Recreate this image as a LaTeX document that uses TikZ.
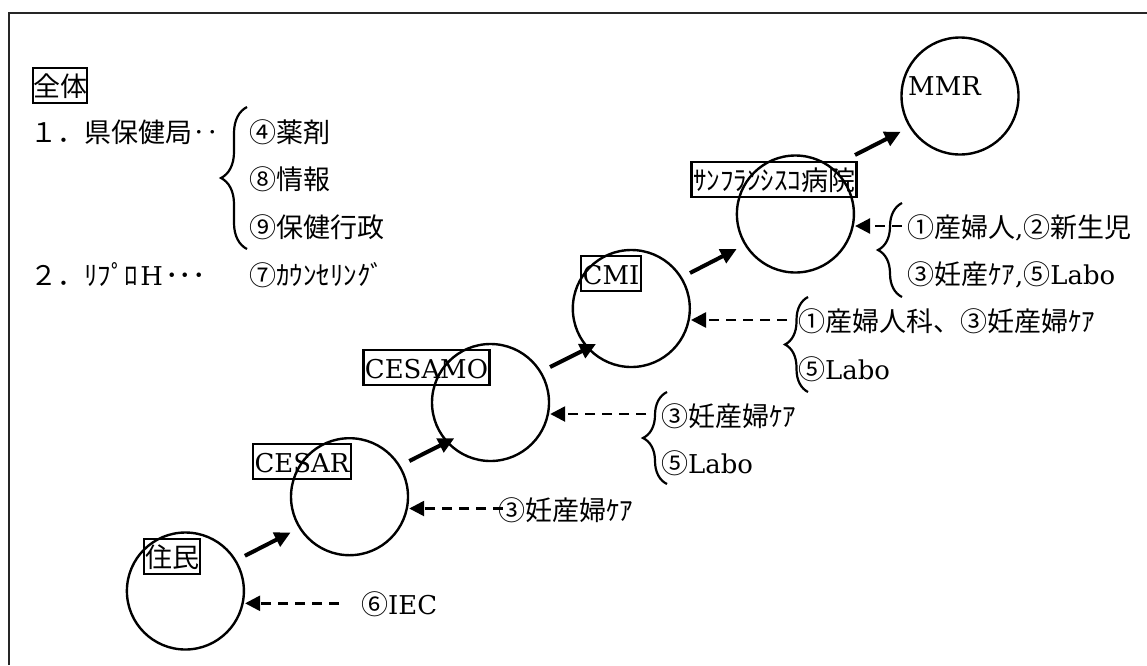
\documentclass[tikz,border=0pt]{standalone}
\usepackage{fontspec}
\setmainfont{DejaVu Serif}[Scale=0.96]
\newfontfamily\jp{Noto Sans CJK JP}
\usetikzlibrary{arrows.meta,decorations.pathreplacing}
\begin{document}
\begin{tikzpicture}[x=1pt,y=-1pt,
  every node/.style={font=\fontsize{27}{32}\selectfont},
  ring/.style={circle,draw,line width=2.4pt,minimum size=117pt,inner sep=0pt},
  tag/.style={draw,line width=2.2pt,inner xsep=1.5pt,inner ysep=0.5pt,text height=28pt,text depth=6pt},
  txt/.style={anchor=base west,inner sep=0pt},
  flow/.style={line width=4pt,-{Triangle[length=16pt,width=15pt]}},
  feed/.style={line width=2.6pt,dash pattern=on 10pt off 7pt,-{Triangle[length=15pt,width=15pt]}},
  curly/.style={line width=2.2pt,decorate,decoration={brace,amplitude=#1}},
  frame/.style={line width=2.5pt,black!85}
]
\useasboundingbox (0,0) rectangle (1147,665);
\draw[frame] (9,665) -- (9,13) -- (1147,13);

% circles
\node[ring] (c0) at (185.4,591) {};
\node[ring] (c1) at (349.5,496.7) {};
\node[ring] (c2) at (490.5,402.5) {};
\node[ring] (c3) at (631.3,308.5) {};
\node[ring] (c4) at (795.4,214) {};
\node[ring] (c5) at (960,96) {};
\node[txt] (mmr) at (908,95) {MMR};

% labels
\node[tag,inner xsep=0pt] (all) at (60,85.5) {\jp 全体};
\node[tag,inner xsep=1pt] (b0) at (172,556.5) {\jp 住民};
\node[tag] (b1) at (302,461.5) {CESAR};
\node[tag] (b2) at (426.5,367.5) {CESAMO};
\node[tag] (b3) at (611,273.5) {CMI};
\node[tag] (b4) at (774,179.5) {\jp ｻﾝﾌﾗﾝｼｽｺ病院};

% solid arrows
\draw[flow] ([shift={(59.5,-35.2)}]c0.center) -- ([shift={(-58.8,35.7)}]c1.center);
\draw[flow] ([shift={(59.8,-35.7)}]c1.center) -- ([shift={(-36.2,35.8)}]c2.center);
\draw[flow] ([shift={(59.5,-35.5)}]c2.center) -- ([shift={(-35.3,35.5)}]c3.center);
\draw[flow] ([shift={(58.7,-35.5)}]c3.center) -- ([shift={(-58.7,35)}]c4.center);
\draw[flow] ([shift={(59.6,-59)}]c4.center) -- ([shift={(-59.3,35.7)}]c5.center);

% left list
\node[txt] (l1) at (30,142.5) {\jp １．県保健局‥};
\node[txt] (l1a) at (249,142.5) {\jp ④薬剤};
\node[txt] (l1b) at (249,189) {\jp ⑧情報};
\node[txt] (l1c) at (249,237.5) {\jp ⑨保健行政};
\node[txt] (l2) at (30,285) {{\jp ２．ﾘﾌﾟﾛ}\makebox[27pt]{H}{\jp ･･･}};
\node[txt] (l2a) at (249,285) {\jp ⑦ｶｳﾝｾﾘﾝｸﾞ};
\draw[curly=26pt] (247,249) -- (247,107);

% inputs
\node[txt] (t0) at (361,614) {{\jp ⑥}IEC};
\node[txt] (t1) at (498,520) {\jp ③妊産婦ｹｱ};
\node[txt] (t2a) at (661,426) {\jp ③妊産婦ｹｱ};
\node[txt] (t2b) at (661,473) {{\jp ⑤}Labo};
\node[txt] (t3a) at (798,331.5) {\jp ①産婦人科、③妊産婦ｹｱ};
\node[txt] (t3b) at (798,379) {{\jp ⑤}Labo};
\node[txt] (t4a) at (907,237.5) {{\jp ①産婦人},{\jp ②新生児}};
\node[txt] (t4b) at (907,284) {{\jp ③妊産ｹｱ},{\jp ⑤}Labo};

\draw[curly=24pt] (667,484) -- (667,392);
\draw[curly=23pt] (808,392) -- (808,297);
\draw[curly=24pt] (902,297) -- (902,203);

% dashed arrows
\coordinate (d0) at (339,603.3);
\coordinate (d1) at (503,508.5);
\coordinate (d2) at (646,414);
\coordinate (d3) at (787,320);
\coordinate (d4) at (902,226);
\draw[feed] (d0) -- (d0 -| c0.east);
\draw[feed] (d1) -- (d1 -| c1.east);
\draw[feed] (d2) -- (d2 -| c2.east);
\draw[feed] (d3) -- (d3 -| c3.east);
\draw[feed] (d4) -- (d4 -| c4.east);
\end{tikzpicture}
\end{document}
